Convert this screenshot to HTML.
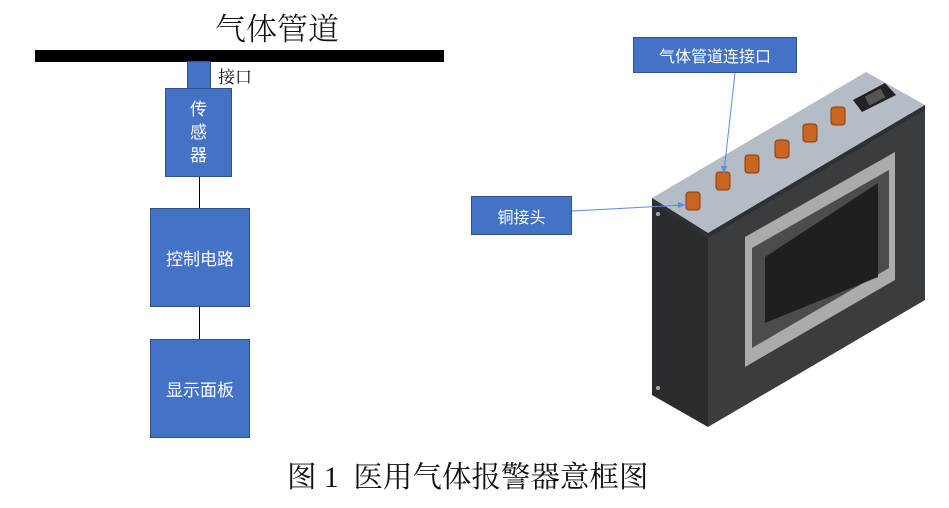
<!DOCTYPE html>
<html><head><meta charset="utf-8"><style>
body{margin:0;width:949px;height:508px;background:#fff;overflow:hidden;position:relative;font-family:"Liberation Sans","Noto Sans CJK SC",sans-serif}
.a{position:absolute}
.b{position:absolute;background:#4472c4;border:1px solid #2f528f;box-sizing:border-box;color:#fff;display:flex;align-items:center;justify-content:center;font-size:17px}
</style></head><body>
<div class="a" style="left:215px;top:4px;font-size:31px;color:#111;font-family:'Noto Serif CJK SC','Noto Sans CJK SC',serif;font-weight:300">气体管道</div>
<div class="a" style="left:35px;top:50px;width:409px;height:12px;background:#000"></div>
<div class="b" style="left:187px;top:61px;width:24px;height:28px"></div>
<div class="a" style="left:218px;top:63px;font-size:17px;color:#111;font-family:'Noto Serif CJK SC',serif">接口</div>
<div class="b" style="left:165px;top:88px;width:67px;height:89px;flex-direction:column;line-height:23px">传<br>感<br>器</div>
<div class="a" style="left:199px;top:177px;width:1px;height:31px;background:#000"></div>
<div class="b" style="left:150px;top:208px;width:100px;height:99px">控制电路</div>
<div class="a" style="left:199px;top:307px;width:1px;height:32px;background:#000"></div>
<div class="b" style="left:150px;top:339px;width:100px;height:99px">显示面板</div>
<div class="a" style="left:287px;top:454px;white-space:nowrap;font-size:29.5px;color:#111;font-family:'Liberation Serif','Noto Serif CJK SC',serif">图 1&nbsp; 医用气体报警器意框图</div>

<svg class="a" style="left:0;top:0" width="949" height="508">
<polygon points="652,198 708,233 708,427 652,395" fill="#2a2d30"/>
<polygon points="708,233 925,105 925,300 708,427" fill="#3a3d40"/>
<polygon points="652,198 866,72 925,105 708,233" fill="#b4bcc6"/>
<polygon points="652,198 708,233 925,105 925,110 708,238 652,203" fill="#2e3134"/>
<polygon points="745,237 895,152 895,280 745,367" fill="#a9abad"/>
<polygon points="752,248 889,170 889,268 752,348" fill="#4a4d50"/>
<polygon points="765,257 878,183 878,277 765,323" fill="#1d1f22"/>
<circle cx="658" cy="214" r="2" fill="#aaa"/><circle cx="658" cy="388" r="2" fill="#aaa"/>
<polygon points="853,100 885,83 896,95 862,112" fill="#222"/>
<rect x="866" y="92" width="18" height="10" fill="#555" transform="rotate(-28 875 97)"/>
<g fill="#c8651f" stroke="#8a3c10" stroke-width="1">
<rect x="686" y="192" width="14" height="18" rx="3"/>
<rect x="716" y="172" width="14" height="18" rx="3"/>
<rect x="745" y="155" width="14" height="18" rx="3"/>
<rect x="775" y="140" width="14" height="18" rx="3"/>
<rect x="803" y="124" width="14" height="18" rx="3"/>
<rect x="831" y="107" width="14" height="18" rx="3"/>
</g>
<line x1="735" y1="73" x2="724" y2="172" stroke="#5b8be0" stroke-width="1"/>
<polygon points="724,174 721,166 727,166" fill="#5b8be0"/>
<line x1="572" y1="211" x2="684" y2="205" stroke="#5b8be0" stroke-width="1"/>
<polygon points="686,205 678,202 678,208" fill="#5b8be0"/>
</svg>
<div class="b" style="left:633px;top:37px;width:164px;height:36px;font-size:16px">气体管道连接口</div>
<div class="b" style="left:471px;top:196px;width:101px;height:39px;font-size:16px">铜接头</div>
</body></html>
